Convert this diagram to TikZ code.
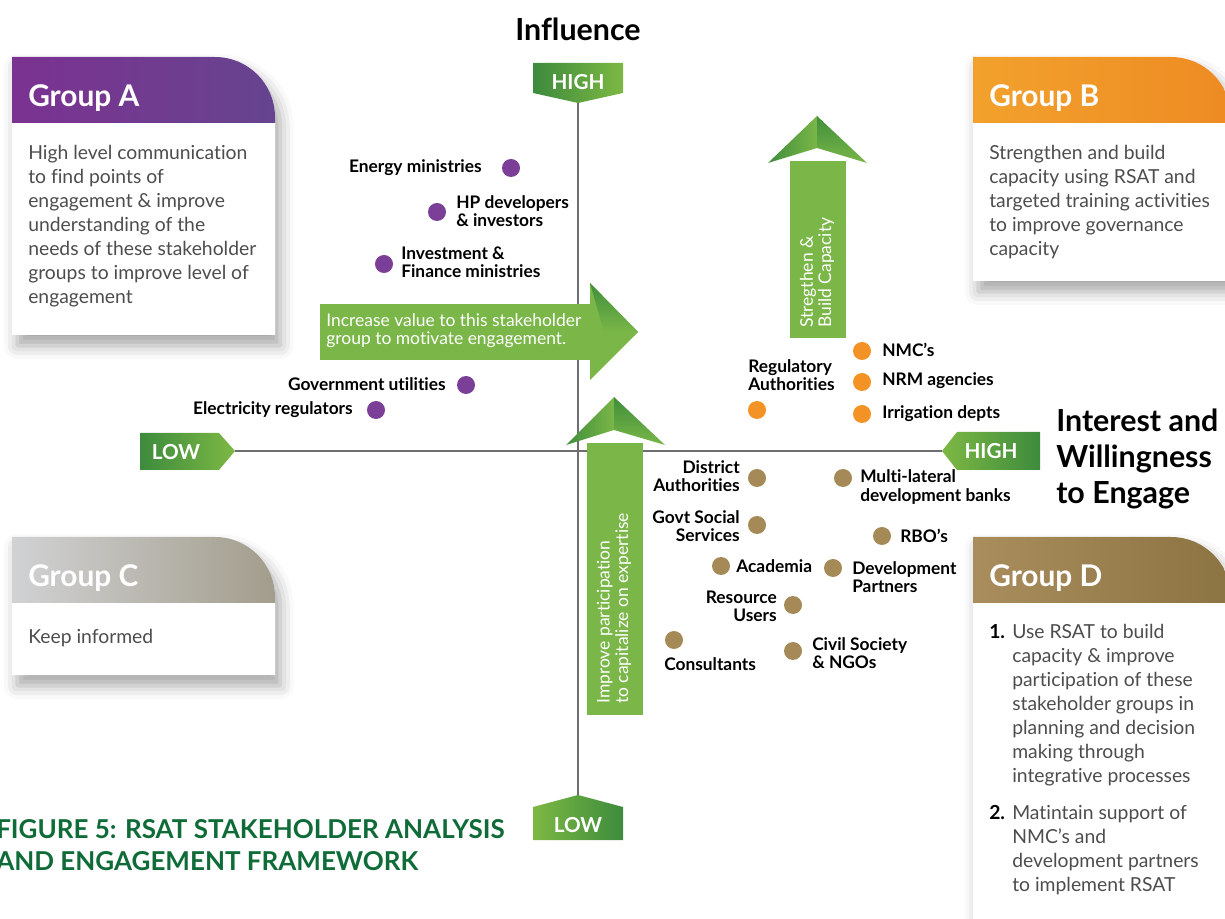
\documentclass[tikz,border=0pt]{standalone}
\usepackage{fontspec}
\setmainfont{Lato}[Ligatures={NoCommon}]
\usetikzlibrary{shadows.blur}

\definecolor{tagdark}{HTML}{3D8B3D}
\definecolor{taglight}{HTML}{7DB843}
\definecolor{arrowgreen}{HTML}{7AB648}
\definecolor{headdark}{HTML}{3F8E3B}
\definecolor{axisgray}{HTML}{6D6E71}
\definecolor{bodygray}{HTML}{4D4D4D}
\definecolor{capgreen}{HTML}{0F6B37}
\definecolor{stpurple}{HTML}{7B3F98}
\definecolor{storange}{HTML}{F39325}
\definecolor{stbrown}{HTML}{A58A57}
\definecolor{grpAl}{HTML}{7B3291}
\definecolor{grpAr}{HTML}{66448F}
\definecolor{grpBl}{HTML}{F2A12D}
\definecolor{grpBr}{HTML}{EE8B23}
\definecolor{grpCl}{HTML}{D1D2D4}
\definecolor{grpCr}{HTML}{A29D8C}
\definecolor{grpDl}{HTML}{A98D5D}
\definecolor{grpDr}{HTML}{8C7342}

\tikzset{
  axis/.style={draw=axisgray, line width=1.2pt},
  dot/.style={circle, inner sep=0pt, minimum size=13.5pt},
  lbl/.style={font=\fontsize{13}{13.7}\selectfont\bfseries, inner sep=0pt},
  body/.style={font=\fontsize{14.5}{18}\selectfont, text=bodygray, align=left, anchor=north west, inner sep=0pt},
  head/.style={font=\fontsize{22.4}{24}\selectfont\bfseries, text=white, anchor=west, inner sep=0pt},
  tag/.style={font=\fontsize{15.5}{16}\selectfont\bfseries, text=white, inner sep=0pt},
  arrowtxt/.style={font=\fontsize{13.1}{13.7}\selectfont, text=white, align=left, inner sep=0pt},
}

\begin{document}
\begin{tikzpicture}[x=0.75pt,y=-0.75pt]
\useasboundingbox (0,0) rectangle (1225,919);

% axes
\coordinate (inftop) at (578,103);
\coordinate (infbot) at (578,795);
\coordinate (intleft) at (235,451);
\coordinate (intright) at (942,451);
\draw[axis] (inftop) -- (infbot);
\draw[axis] (intleft) -- (intright);

% group boxes
\foreach \gx/\gy/\gw/\gh/\cl/\cr/\gname in {12/57/263/278/grpAl/grpAr/A, 973/57/258/224/grpBl/grpBr/B, 12/537/263/138/grpCl/grpCr/C, 973/537/258/400/grpDl/grpDr/D}
{
  \path[fill=white, blur shadow={shadow xshift=4pt, shadow yshift=-8pt, shadow blur radius=10pt, shadow opacity=35}]
    (\gx,\gy+\gh) -- (\gx,\gy) -- (\gx+\gw-60,\gy) to[out=0,in=90] (\gx+\gw,\gy+60) -- (\gx+\gw,\gy+\gh) -- cycle;
  \shade[left color=\cl, right color=\cr]
    (\gx,\gy+66) -- (\gx,\gy) -- (\gx+\gw-60,\gy) to[out=0,in=90] (\gx+\gw,\gy+60) -- (\gx+\gw,\gy+66) -- cycle;
  \node[head] (head\gname) at (\gx+16,\gy+41) {Group \gname};
}

\node[body] (bodyA) at (28,145) {High level communication\\to find points of\\engagement \& improve\\understanding of the\\needs of these stakeholder\\groups to improve level of\\engagement};
\node[body] (bodyB) at (989,145) {Strengthen and build\\capacity using RSAT and\\targeted training activities\\to improve governance\\capacity};
\node[body] (bodyC) at (28,629) {Keep informed};
\node[body, font=\fontsize{14.5}{18}\selectfont\bfseries, text=black] (numD1) at (989,624) {1.};
\node[body] (bodyD1) at (1012,624) {Use RSAT to build\\capacity \& improve\\participation of these\\stakeholder groups in\\planning and decision\\making through\\integrative processes};
\node[body, font=\fontsize{14.5}{18}\selectfont\bfseries, text=black] (numD2) at (989,805) {2.};
\node[body] (bodyD2) at (1012,805) {Matintain support of\\NMC’s and\\development partners\\to implement RSAT};

% tags
\shade[left color=tagdark, right color=taglight] (533,63) -- (623,63) -- (623,93) -- (inftop) -- (533,93) -- cycle;
\node[tag] (infhigh) at (578,82) {HIGH};
\shade[left color=taglight, right color=tagdark] (infbot) -- (623,807) -- (623,840) -- (533,840) -- (533,807) -- cycle;
\node[tag] (inflow) at (578,825) {LOW};
\shade[left color=tagdark, right color=taglight] (140,433) -- (219,433) -- (intleft) -- (219,470) -- (140,470) -- cycle;
\node[tag] (intlow) at (176,452) {LOW};
\shade[left color=taglight, right color=tagdark] (intright) -- (957,432) -- (1040,432) -- (1040,470) -- (957,470) -- cycle;
\node[tag] (inthigh) at (991,451) {HIGH};

% green arrows
\fill[arrowgreen] (320,304) rectangle (592,360);
\fill[arrowgreen] (590,283) -- (638,332) -- (590,380) -- cycle;
\shade[top color=headdark, bottom color=arrowgreen] (590,283) -- (638,332) -- (604,332) -- cycle;
\node[arrowtxt, anchor=west] (valuetxt) at (326,331) {Increase value to this stakeholder\\group to motivate engagement.};

\fill[arrowgreen] (587,443) rectangle (643,715);
\shade[left color=headdark, right color=arrowgreen] (566,445) -- (614,397) -- (614,430) -- cycle;
\shade[top color=headdark, bottom color=arrowgreen] (614,397) -- (665,445) -- (614,430) -- cycle;
\node[arrowtxt, rotate=90, anchor=west] (improvetxt) at (614,704) {Improve participation\\to capitalize on expertise};

\fill[arrowgreen] (790,161) rectangle (846,338);
\shade[left color=headdark, right color=arrowgreen] (768,163) -- (817,116) -- (817,148) -- cycle;
\shade[top color=headdark, bottom color=arrowgreen] (817,116) -- (867,163) -- (817,148) -- cycle;
\node[arrowtxt, rotate=90, anchor=west] (strengthtxt) at (817,328) {Stregthen \&\\Build Capacity};

% stakeholders
\foreach \n/\x/\y in {energy/511/168, hpdev/437/212, invest/384/264, govutil/466/385, elecreg/376/410}
  \node[dot, fill=stpurple] (\n) at (\x,\y) {};
\foreach \n/\x/\y in {nmc/862/351, nrm/862/382, irrig/862/414, regauth/757/410}
  \node[dot, fill=storange] (\n) at (\x,\y) {};
\foreach \n/\x/\y in {district/757/478, multilat/843/478, govtsoc/757/525, rbo/882/536, academia/721/566, devpart/833/568, resource/793/605, consult/674/640, civil/793/651}
  \node[dot, fill=stbrown] (\n) at (\x,\y) {};

\node[lbl, anchor=east] (energyl) at (482,168) {Energy ministries};
\node[lbl, anchor=west, align=left] (hpdevl) at (456,211) {HP developers\\\& investors};
\node[lbl, anchor=west, align=left] (investl) at (401,262) {Investment \&\\Finance ministries};
\node[lbl, anchor=east] (govutill) at (446,384) {Government utilities};
\node[lbl, anchor=east] (elecregl) at (353,410) {Electricity regulators};

\node[lbl, anchor=west] (nmcl) at (882,350) {NMC’s};
\node[lbl, anchor=west] (nrml) at (882,381) {NRM agencies};
\node[lbl, anchor=west] (irrigl) at (882,414) {Irrigation depts};
\node[lbl, anchor=west, align=left] (regauthl) at (748,375) {Regulatory\\Authorities};

\node[lbl, anchor=east, align=right] (districtl) at (740,476) {District\\Authorities};
\node[lbl, anchor=west, align=left] (multilatl) at (860,487) {Multi-lateral\\development banks};
\node[lbl, anchor=east, align=right] (govtsocl) at (740,526) {Govt Social\\Services};
\node[lbl, anchor=west] (rbol) at (900,536) {RBO’s};
\node[lbl, anchor=west] (academial) at (736,566) {Academia};
\node[lbl, anchor=west, align=left] (devpartl) at (852,577) {Development\\Partners};
\node[lbl, anchor=east, align=right] (resourcel) at (777,606) {Resource\\Users};
\node[lbl, anchor=west] (consultl) at (664,664) {Consultants};
\node[lbl, anchor=west, align=left] (civill) at (812,653) {Civil Society\\\& NGOs};

% titles
\node[font=\fontsize{22.8}{24}\selectfont\bfseries, inner sep=0pt] (influence) at (578,29) {Influence};
\node[font=\fontsize{22.8}{27}\selectfont\bfseries, align=left, anchor=west, inner sep=0pt] (interest) at (1056,459) {Interest and\\Willingness\\to Engage};
\node[font=\fontsize{19.5}{24}\selectfont\bfseries, text=capgreen, align=left, anchor=west, inner sep=0pt] (caption) at (-4,845) {FIGURE 5: RSAT STAKEHOLDER ANALYSIS\\AND ENGAGEMENT FRAMEWORK};

\end{tikzpicture}
\end{document}
